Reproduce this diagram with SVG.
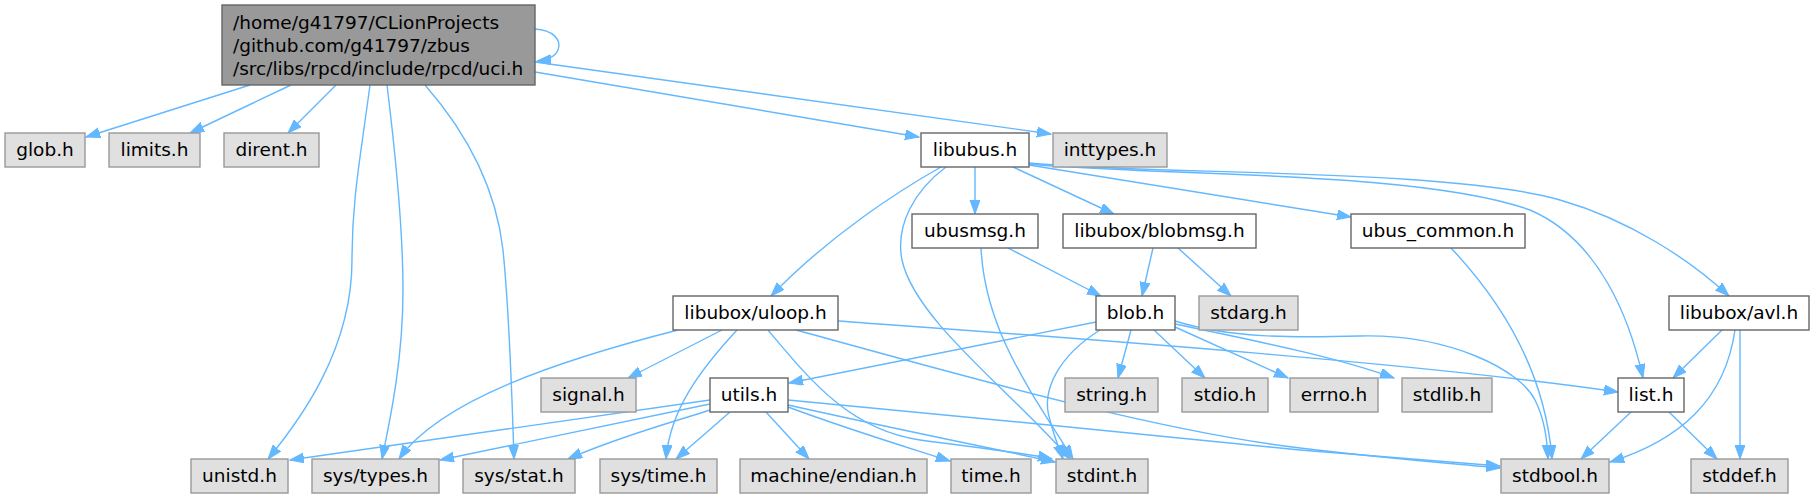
<svg xmlns="http://www.w3.org/2000/svg" width="1815" height="499" viewBox="0 0 1815 499">
<style>
text{font-family:"DejaVu Sans",sans-serif;font-size:18.5px;fill:#000;text-anchor:middle}
.w rect{fill:#fff;stroke:#666;stroke-width:1.4}
.x rect{fill:#e0e0e0;stroke:#999;stroke-width:1.4}
.m rect{fill:#999;stroke:#666;stroke-width:1.4}
.m text{text-anchor:start}
#edges path{fill:none;stroke:#63B8FF;stroke-width:1.4;marker-end:url(#a)}
</style>
<defs>
<marker id="a" markerWidth="15" markerHeight="11" refX="14" refY="5" orient="auto" markerUnits="userSpaceOnUse"><path d="M0,0 L14,5 L0,10 z" fill="#63B8FF" stroke="#63B8FF" stroke-width="1"/></marker>
</defs>
<rect width="1815" height="499" fill="#fff"/>
<g id="edges">
<path d="M535,29 C553,30 562,40 558,50 C555,57 548,60 537,61"/>
<path d="M250,85 L86,137"/>
<path d="M291,85 L190,133"/>
<path d="M336,85 L288,133"/>
<path d="M370,85 C360,160 352,200 352,260 C352,350 300,420 268,459"/>
<path d="M387,85 C395,150 403,230 403,290 C403,360 390,420 382,459"/>
<path d="M425,85 C460,125 495,180 503,250 C510,320 512,400 514,459"/>
<path d="M535,72 L919,137"/>
<path d="M535,62 L1051,134"/>
<path d="M941,167 C900,190 830,235 771,296"/>
<path d="M946,167 C915,190 895,225 902,260 C915,320 1010,390 1070,459"/>
<path d="M975,167 L975,214"/>
<path d="M1013,167 L1114,214"/>
<path d="M1029,165 L1351,217"/>
<path d="M1029,164 C1150,176 1420,170 1530,210 C1600,240 1630,320 1643,378"/>
<path d="M1029,163 C1150,175 1450,168 1560,200 C1630,220 1690,260 1729,296"/>
<path d="M1008,248 L1101,296"/>
<path d="M981,248 C985,330 1030,390 1073,459"/>
<path d="M1153,248 L1142,296"/>
<path d="M1178,248 L1231,296"/>
<path d="M1451,248 C1500,300 1545,370 1552,459"/>
<path d="M678,330 C560,360 440,400 399,459"/>
<path d="M722,330 L628,378"/>
<path d="M737,330 C700,370 670,410 666,459"/>
<path d="M768,330 C810,380 850,430 920,440 C980,448 1020,452 1052,459"/>
<path d="M796,330 C950,372 1150,430 1300,448 C1400,460 1460,464 1500,468"/>
<path d="M838,321 C1000,333 1400,360 1618,392"/>
<path d="M1096,322 L789,383"/>
<path d="M1100,330 C1060,355 1040,390 1050,420 C1055,440 1060,450 1063,459"/>
<path d="M1131,330 L1118,378"/>
<path d="M1154,330 L1205,378"/>
<path d="M1175,327 L1288,378"/>
<path d="M1175,324 C1250,340 1330,355 1394,378"/>
<path d="M1175,321 C1230,338 1290,338 1360,336 C1450,334 1520,370 1535,400 C1545,420 1547,440 1548,459"/>
<path d="M710,400 L290,460"/>
<path d="M710,404 L440,460"/>
<path d="M710,410 C680,420 620,436 568,459"/>
<path d="M730,412 L676,459"/>
<path d="M766,412 L809,459"/>
<path d="M788,407 C850,430 900,445 950,461"/>
<path d="M788,405 C900,430 1000,450 1055,462"/>
<path d="M788,400 C950,415 1150,435 1300,450 C1400,458 1460,463 1500,466"/>
<path d="M1631,412 L1581,459"/>
<path d="M1669,412 L1717,459"/>
<path d="M1722,330 L1673,378"/>
<path d="M1735,330 C1725,400 1680,440 1610,462"/>
<path d="M1740,330 L1740,459"/>
</g>
<g id="n_main" class="m"><rect x="222" y="5" width="313" height="80"/><text x="233" y="28.5">/home/g41797/CLionProjects</text><text x="233" y="51.5">/github.com/g41797/zbus</text><text x="233" y="74.5">/src/libs/rpcd/include/rpcd/uci.h</text></g>
<g id="n_glob" class="x"><rect x="5" y="133" width="80" height="34"/><text x="45" y="156.3">glob.h</text></g>
<g id="n_limits" class="x"><rect x="109" y="133" width="91" height="34"/><text x="154.5" y="156.3">limits.h</text></g>
<g id="n_dirent" class="x"><rect x="224" y="133" width="95" height="34"/><text x="271.5" y="156.3">dirent.h</text></g>
<g id="n_libubus" class="w"><rect x="921" y="133" width="108" height="34"/><text x="975" y="156.3">libubus.h</text></g>
<g id="n_inttypes" class="x"><rect x="1053" y="133" width="114" height="34"/><text x="1110" y="156.3">inttypes.h</text></g>
<g id="n_ubusmsg" class="w"><rect x="912" y="214" width="126" height="34"/><text x="975" y="237.3">ubusmsg.h</text></g>
<g id="n_blobmsg" class="w"><rect x="1063" y="214" width="193" height="34"/><text x="1159.5" y="237.3">libubox/blobmsg.h</text></g>
<g id="n_ubus_common" class="w"><rect x="1351" y="214" width="174" height="34"/><text x="1438" y="237.3">ubus_common.h</text></g>
<g id="n_uloop" class="w"><rect x="673" y="296" width="165" height="34"/><text x="755.5" y="319.3">libubox/uloop.h</text></g>
<g id="n_blob" class="w"><rect x="1096" y="296" width="79" height="34"/><text x="1135.5" y="319.3">blob.h</text></g>
<g id="n_stdarg" class="x"><rect x="1199" y="296" width="99" height="34"/><text x="1248.5" y="319.3">stdarg.h</text></g>
<g id="n_avl" class="w"><rect x="1669" y="296" width="140" height="34"/><text x="1739" y="319.3">libubox/avl.h</text></g>
<g id="n_signal" class="x"><rect x="541" y="378" width="95" height="34"/><text x="588.5" y="401.3">signal.h</text></g>
<g id="n_utils" class="w"><rect x="710" y="378" width="78" height="34"/><text x="749" y="401.3">utils.h</text></g>
<g id="n_string" class="x"><rect x="1065" y="378" width="93" height="34"/><text x="1111.5" y="401.3">string.h</text></g>
<g id="n_stdio" class="x"><rect x="1182" y="378" width="86" height="34"/><text x="1225" y="401.3">stdio.h</text></g>
<g id="n_errno" class="x"><rect x="1290" y="378" width="88" height="34"/><text x="1334" y="401.3">errno.h</text></g>
<g id="n_stdlib" class="x"><rect x="1402" y="378" width="90" height="34"/><text x="1447" y="401.3">stdlib.h</text></g>
<g id="n_list" class="w"><rect x="1618" y="378" width="66" height="34"/><text x="1651" y="401.3">list.h</text></g>
<g id="n_unistd" class="x"><rect x="191" y="459" width="97" height="34"/><text x="239.5" y="482.3">unistd.h</text></g>
<g id="n_systypes" class="x"><rect x="312" y="459" width="127" height="34"/><text x="375.5" y="482.3">sys/types.h</text></g>
<g id="n_sysstat" class="x"><rect x="463" y="459" width="112" height="34"/><text x="519" y="482.3">sys/stat.h</text></g>
<g id="n_systime" class="x"><rect x="600" y="459" width="117" height="34"/><text x="658.5" y="482.3">sys/time.h</text></g>
<g id="n_endian" class="x"><rect x="740" y="459" width="187" height="34"/><text x="833.5" y="482.3">machine/endian.h</text></g>
<g id="n_time" class="x"><rect x="951" y="459" width="80" height="34"/><text x="991" y="482.3">time.h</text></g>
<g id="n_stdint" class="x"><rect x="1056" y="459" width="92" height="34"/><text x="1102" y="482.3">stdint.h</text></g>
<g id="n_stdbool" class="x"><rect x="1501" y="459" width="108" height="34"/><text x="1555" y="482.3">stdbool.h</text></g>
<g id="n_stddef" class="x"><rect x="1691" y="459" width="97" height="34"/><text x="1739.5" y="482.3">stddef.h</text></g>
</svg>
